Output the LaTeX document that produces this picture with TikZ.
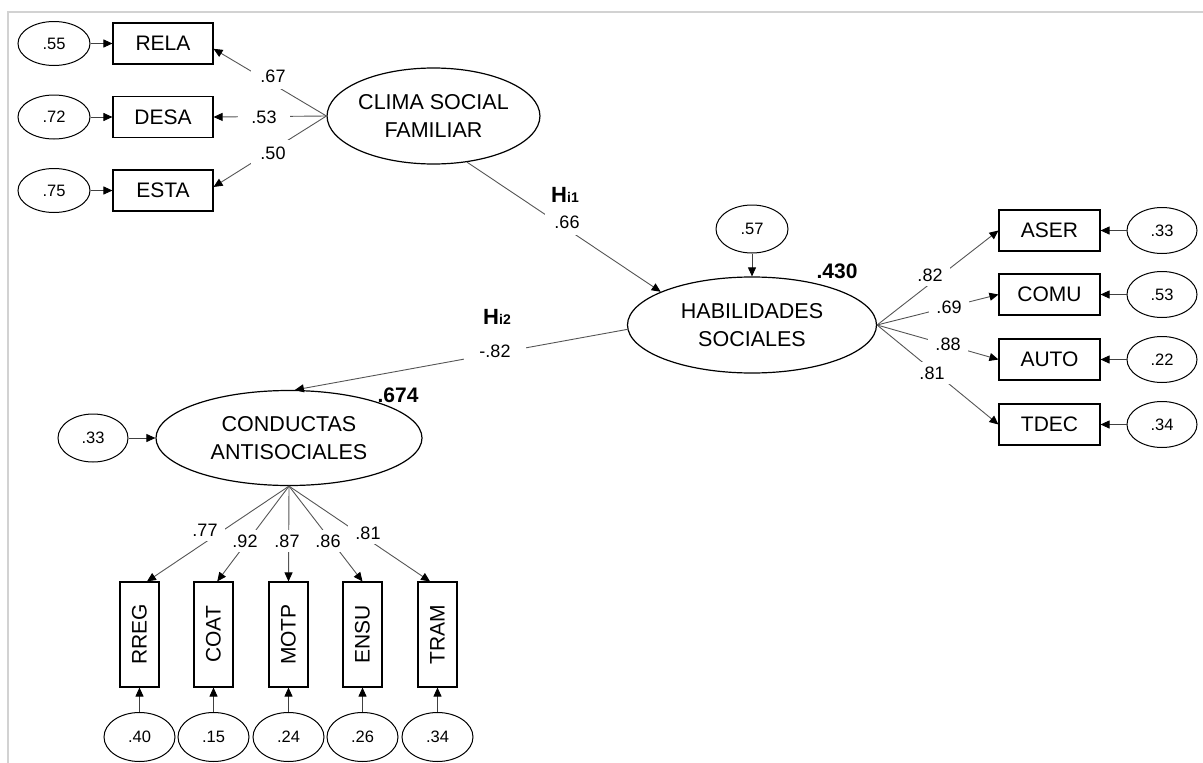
\documentclass[tikz,border=0pt]{standalone}
\usepackage{fontspec}
\setmainfont{Liberation Sans}
\usetikzlibrary{shapes.geometric,arrows.meta}
\definecolor{linegray}{RGB}{85,85,85}
\definecolor{framegray}{RGB}{210,210,210}
\tikzset{
 obsbox/.style={draw, line width=1.1pt, minimum width=100pt, minimum height=41pt, inner sep=0pt, font=\fontsize{21}{24}\selectfont},
 vbox/.style={draw, line width=1.1pt, minimum width=39pt, minimum height=105pt, inner sep=0pt, font=\fontsize{21}{24}\selectfont},
 errell/.style={ellipse, draw, line width=1pt, inner sep=0pt, font=\fontsize{16.5}{18}\selectfont},
 latell/.style={ellipse, draw, line width=1.2pt, inner sep=0pt, align=center, font=\fontsize{21.5}{28}\selectfont},
 conn/.style={draw=linegray, line width=0.9pt, -{Triangle[length=9pt,width=8pt,color=black]}},
 errarrow/.style={draw=black!75, line width=0.9pt, -{Triangle[length=9pt,width=8pt,color=black]}},
 coef/.style={fill=white, inner xsep=7pt, inner ysep=5pt, font=\fontsize{18}{18}\selectfont},
 rsq/.style={font=\bfseries\fontsize{21}{21}\selectfont, inner sep=0pt},
 hyp/.style={font=\bfseries\fontsize{22}{22}\selectfont, inner sep=0pt},
}
\begin{document}
\begin{tikzpicture}[x=1pt,y=-1pt]
\useasboundingbox (0,0) rectangle (1203,763);
% frame
\draw[framegray, line width=2pt] (8,763) -- (8,12) -- (1203,12);

% left indicators
\node[obsbox] (rela) at (163,43.5) {RELA};
\node[obsbox] (desa) at (163,117) {DESA};
\node[obsbox] (esta) at (163,190.5) {ESTA};
\node[errell, minimum width=72pt, minimum height=44pt] (e55) at (54,43.5) {.55};
\node[errell, minimum width=72pt, minimum height=44pt] (e72) at (54,117) {.72};
\node[errell, minimum width=72pt, minimum height=44pt] (e75) at (54,190.5) {.75};

% latent variables
\node[latell, minimum width=193pt, minimum height=96pt] (clima) at (433.5,116) {CLIMA SOCIAL\\FAMILIAR};
\node[latell, minimum width=249pt, minimum height=96pt] (hab) at (752,325) {HABILIDADES\\SOCIALES};
\node[latell, minimum width=266pt, minimum height=95pt] (cond) at (289,438) {CONDUCTAS\\ANTISOCIALES};
\node[errell, minimum width=72pt, minimum height=48pt] (e57) at (752,229) {.57};
\node[errell, minimum width=70pt, minimum height=48pt] (e33c) at (93,438) {.33};

% right indicators
\node[obsbox, minimum width=101pt] (aser) at (1049.5,230.5) {ASER};
\node[obsbox, minimum width=101pt] (comu) at (1049.5,294.5) {COMU};
\node[obsbox, minimum width=101pt] (auto) at (1049.5,359.5) {AUTO};
\node[obsbox, minimum width=101pt] (tdec) at (1049.5,424.5) {TDEC};
\node[errell, minimum width=70pt, minimum height=46pt] (e33r) at (1162,230.5) {.33};
\node[errell, minimum width=70pt, minimum height=46pt] (e53) at (1162,294.5) {.53};
\node[errell, minimum width=70pt, minimum height=46pt] (e22) at (1162,359.5) {.22};
\node[errell, minimum width=70pt, minimum height=46pt] (e34) at (1162,424.5) {.34};

% bottom indicators
\node[vbox] (rreg) at (139.5,634.5) {\rotatebox{90}{RREG}};
\node[vbox] (coat) at (213.5,634.5) {\rotatebox{90}{COAT}};
\node[vbox] (motp) at (288.5,634.5) {\rotatebox{90}{MOTP}};
\node[vbox] (ensu) at (362.5,634.5) {\rotatebox{90}{ENSU}};
\node[vbox] (tram) at (437.5,634.5) {\rotatebox{90}{TRAM}};
\node[errell, minimum width=71pt, minimum height=49pt] (e40) at (139.5,737) {.40};
\node[errell, minimum width=71pt, minimum height=49pt] (e15) at (213.5,737) {.15};
\node[errell, minimum width=71pt, minimum height=49pt] (e24) at (288.5,737) {.24};
\node[errell, minimum width=71pt, minimum height=49pt] (e26) at (362.5,737) {.26};
\node[errell, minimum width=71pt, minimum height=49pt] (e34b) at (437.5,737) {.34};

% error arrows
\draw[errarrow] (e55) -- (rela);
\draw[errarrow] (e72) -- (desa);
\draw[errarrow] (e75) -- (esta);
\draw[errarrow] (e57) -- (hab);
\draw[errarrow] (e33c) -- (cond);
\draw[errarrow] (e33r) -- (aser);
\draw[errarrow] (e53) -- (comu);
\draw[errarrow] (e22) -- (auto);
\draw[errarrow] (e34) -- (tdec);
\draw[errarrow] (e40) -- (rreg);
\draw[errarrow] (e15) -- (coat);
\draw[errarrow] (e24) -- (motp);
\draw[errarrow] (e26) -- (ensu);
\draw[errarrow] (e34b) -- (tram);

% loadings
\draw[conn] (clima.west) -- (rela.-6);
\draw[conn] (clima.west) -- (desa.east);
\draw[conn] (clima.west) -- (esta.4);
\draw[conn] (hab.east) -- (aser.west);
\draw[conn] (hab.east) -- (comu.west);
\draw[conn] (hab.east) -- (auto.west);
\draw[conn] (hab.east) -- (tdec.west);
\draw[conn] (cond.south) -- (rreg.82);
\draw[conn] (cond.south) -- (coat.86);
\draw[conn] (cond.south) -- (motp.north);
\draw[conn] (cond.south) -- (ensu.north);
\draw[conn] (cond.south) -- (tram.98);

% structural paths
\draw[conn] (clima.-54) -- (hab.160);
\draw[conn] (hab.182) -- (cond.83);

% coefficient labels
\node[coef, inner xsep=9pt, inner ysep=7pt] at (273,76) {.67};
\node[coef, inner xsep=13pt] at (264,117) {.53};
\node[coef, inner xsep=9pt, inner ysep=7pt] at (273,153) {.50};
\node[coef, inner xsep=9pt, inner ysep=7pt] at (567,222) {.66};
\node[hyp] at (565,195) {H{\fontsize{14}{14}\selectfont i1}};
\node[coef, inner xsep=15pt] at (495,351) {-.82};
\node[hyp] at (497,317) {H{\fontsize{14}{14}\selectfont i2}};
\node[rsq] at (837,271) {.430};
\node[rsq] at (398,395) {.674};
\node[coef] at (930,275) {.82};
\node[coef] at (949,307) {.69};
\node[coef] at (948,344) {.88};
\node[coef] at (932,373) {.81};
\node[coef] at (205,530) {.77};
\node[coef] at (245,541) {.92};
\node[coef] at (287,541) {.87};
\node[coef] at (328,541) {.86};
\node[coef] at (368,533) {.81};
\end{tikzpicture}
\end{document}
